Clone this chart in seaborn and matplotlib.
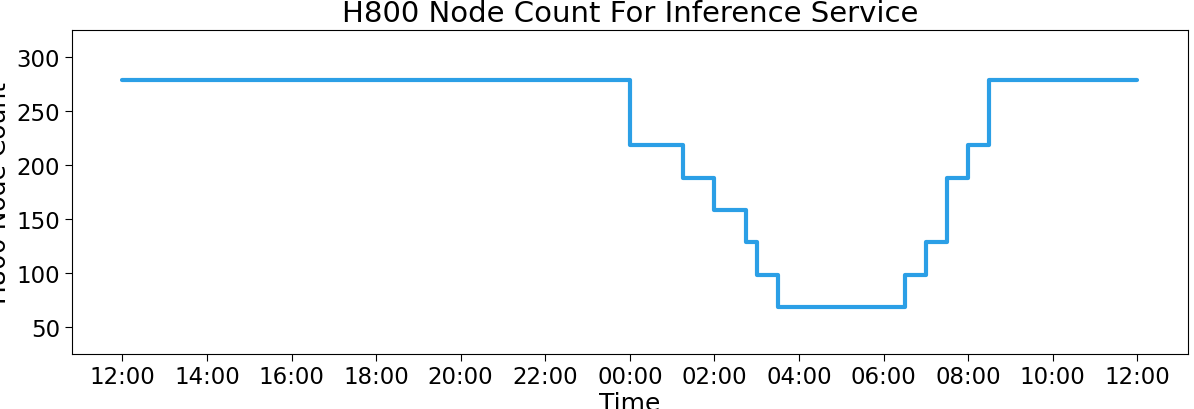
import matplotlib
matplotlib.use("Agg")
import matplotlib.pyplot as plt
import seaborn as sns
import pandas as pd

# hours since 12:00 (start), node counts (step-post)
hours = [0, 12, 13.25, 14, 14.75, 15, 15.5, 18.5, 19, 19.5, 20, 20.5, 24]
counts = [278, 218, 188, 158, 128, 98, 68, 98, 128, 188, 218, 278, 278]
tick_hours = [0, 2, 4, 6, 8, 10, 12, 14, 16, 18, 20, 22, 24]
tick_labels = ["12:00", "14:00", "16:00", "18:00", "20:00", "22:00", "00:00",
               "02:00", "04:00", "06:00", "08:00", "10:00", "12:00"]

df = pd.DataFrame({"h": hours, "c": counts})
sns.set_style("white")
plt.rcParams["font.family"] = ["DejaVu Sans"]
plt.rcParams["text.color"] = "black"
plt.rcParams["axes.labelcolor"] = "black"
plt.rcParams["xtick.color"] = "black"
plt.rcParams["ytick.color"] = "black"
fig, ax = plt.subplots(figsize=(11.94, 4.10), dpi=100)
sns.lineplot(data=df, x="h", y="c", ax=ax, color="#2b9fe6", linewidth=3,
             drawstyle="steps-post")
ax.set_xticks(tick_hours)
ax.set_xticklabels(tick_labels)
ax.set_xlim(-1.2, 25.2)
ax.set_ylim(25, 325)
ax.set_yticks([50, 100, 150, 200, 250, 300])
ax.tick_params(labelsize=16.5, length=5, left=True, bottom=True)
ax.set_xlabel("Time", fontsize=18, labelpad=2)
ax.set_ylabel("H800 Node Count", fontsize=18)
ax.set_title("H800 Node Count For Inference Service", fontsize=21, pad=6)
for s in ax.spines.values():
    s.set_color("black")
    s.set_linewidth(0.8)
fig.subplots_adjust(left=0.06, right=0.995, top=0.925, bottom=0.135)
fig.savefig("out.png")
